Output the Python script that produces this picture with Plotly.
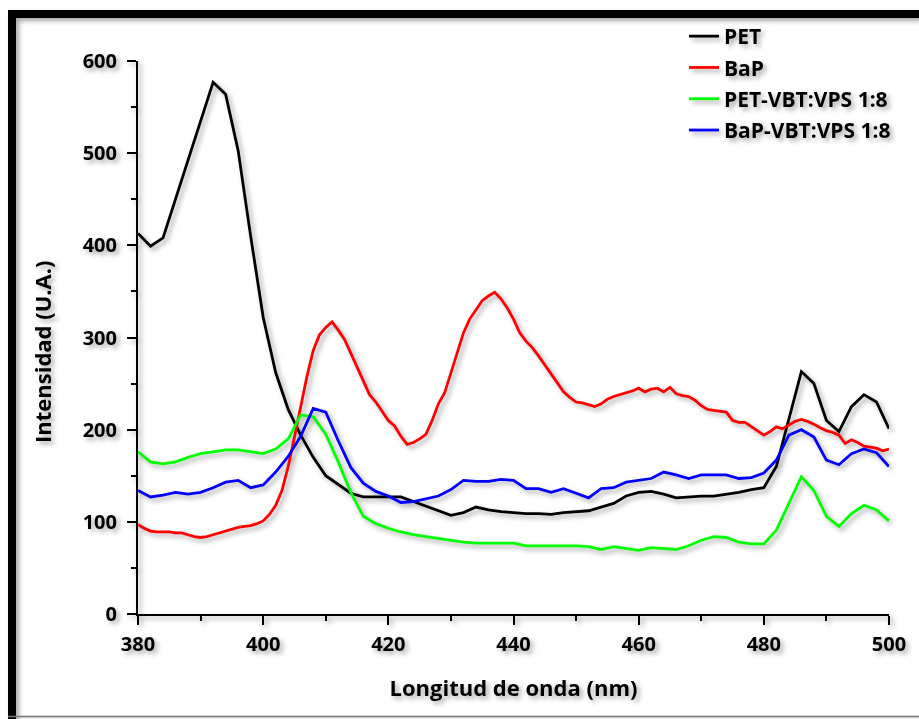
import plotly.graph_objects as go

# Emission spectra, wavelength in nm
wl_2nm = list(range(380, 501, 2))
wl_1nm = list(range(380, 501, 1))

pet = [413, 399, 408, 450, 492, 534, 577, 564, 503, 410,
       322, 262, 222, 194, 170, 150, 140, 131, 127, 127,
       127, 127, 122, 117, 112, 107, 110, 116, 113, 111,
       110, 109, 109, 108, 110, 111, 112, 116, 120, 128,
       132, 133, 130, 126, 127, 128, 128, 130, 132, 135,
       137, 160, 212, 263, 250, 210, 198, 225, 238, 230,
       201]

bap = [97, 93, 90, 89, 89, 89, 88, 88, 86, 84,
       83, 84, 86, 88, 90, 92, 94, 95, 96, 98,
       101, 108, 118, 134, 160, 192, 225, 258, 286, 303,
       311, 317, 308, 298, 283, 268, 252, 238, 230, 220,
       210, 204, 193, 184, 186, 190, 195, 210, 228, 240,
       262, 285, 305, 320, 330, 340, 345, 349, 342, 332,
       320, 305, 296, 289, 280, 270, 260, 250, 241, 235,
       230, 229, 227, 225, 228, 233, 236, 238, 240, 242,
       245, 241, 244, 245, 241, 246, 239, 237, 236, 232,
       226, 222, 221, 220, 219, 210, 208, 208, 203, 199,
       194, 198, 203, 201, 205, 209, 211, 209, 206, 202,
       199, 197, 194, 185, 189, 186, 182, 181, 180, 177,
       179]

pet_vbt = [176, 165, 163, 165, 170, 174, 176, 178, 178, 176,
           174, 179, 190, 216, 214, 195, 165, 132, 106, 98,
           93, 89, 86, 84, 82, 80, 78, 77, 77, 77,
           77, 74, 74, 74, 74, 74, 73, 70, 73, 71,
           69, 72, 71, 70, 74, 80, 84, 83, 78, 76,
           76, 91, 120, 149, 134, 106, 95, 109, 118, 113,
           101]

bap_vbt = [134, 127, 129, 132, 130, 132, 137, 143, 145, 137,
           140, 154, 171, 193, 223, 219, 188, 159, 142, 133,
           128, 121, 122, 125, 128, 135, 145, 144, 144, 146,
           145, 136, 136, 132, 136, 131, 126, 136, 137, 143,
           145, 147, 154, 151, 147, 151, 151, 151, 147, 148,
           153, 167, 194, 200, 192, 167, 162, 174, 179, 175,
           160]

series = [
    ("PET", wl_2nm, pet, "#000000"),
    ("BaP", wl_1nm, bap, "#ff0000"),
    ("PET-VBT:VPS 1:8", wl_2nm, pet_vbt, "#00ff00"),
    ("BaP-VBT:VPS 1:8", wl_2nm, bap_vbt, "#0000ff"),
]

x_ticks = [380, 400, 420, 440, 460, 480, 500]
y_ticks = [0, 100, 200, 300, 400, 500, 600]

FONT = "Open Sans"
fig = go.Figure()
for i, (name, xs, ys, col) in enumerate(series):
    fig.add_trace(go.Scatter(
        x=xs, y=ys, name=name, mode="lines", legendgroup=f"g{i}",
        line=dict(color=col, width=2.8),
    ))

W, H = 919, 719
L, R, T, B = 138, 30, 61, 105
pw, ph = W - L - R, H - T - B


def px_x(p):
    return (p - L) / pw


def px_y(p):
    return (H - B - p) / ph


# outer frame: thick black bands on top and left, thin line at the bottom
shapes = [
    dict(type="rect", xref="paper", yref="paper", x0=px_x(8), x1=px_x(930),
         y0=px_y(18), y1=px_y(10), fillcolor="black", line_width=0, layer="above"),
    dict(type="rect", xref="paper", yref="paper", x0=px_x(8), x1=px_x(16),
         y0=px_y(730), y1=px_y(10), fillcolor="black", line_width=0, layer="above"),
    dict(type="line", xref="paper", yref="paper", x0=px_x(8), x1=px_x(930),
         y0=px_y(716.5), y1=px_y(716.5), line=dict(color="#777777", width=1.5)),
]

axis_common = dict(
    showline=True, linecolor="black", linewidth=2,
    ticks="outside", ticklen=9, tickwidth=2, tickcolor="black",
    showgrid=False, zeroline=False,
    tickfont=dict(family=FONT, size=20, color="black", weight="bold"),
)

# vertical axis title, placed a little below the plot's centre line
y_title = dict(
    text="Intensidad (U.A.)", textangle=-90, showarrow=False,
    xref="paper", yref="paper", x=px_x(42), y=px_y(352),
    xanchor="center", yanchor="middle",
    font=dict(family=FONT, size=22, color="black", weight="bold"),
)

fig.update_layout(
    width=W, height=H,
    margin=dict(l=L, r=R, t=T, b=B),
    paper_bgcolor="rgba(0,0,0,0)", plot_bgcolor="rgba(0,0,0,0)",
    font=dict(family=FONT, color="black"),
    shapes=shapes,
    annotations=[y_title],
    xaxis=dict(
        range=[380, 500], tickvals=x_ticks,
        minor=dict(dtick=10, ticks="outside", ticklen=5, tickwidth=2, tickcolor="black"),
        ticklabelstandoff=2,
        title=dict(text="Longitud de onda (nm)", standoff=25,
                   font=dict(family=FONT, size=22, color="black", weight="bold")),
        **axis_common,
    ),
    yaxis=dict(
        range=[0, 600], tickvals=y_ticks,
        minor=dict(dtick=50, ticks="outside", ticklen=5, tickwidth=2, tickcolor="black"),
        ticklabelstandoff=6,
        **axis_common,
    ),
    legend=dict(
        x=px_x(684), y=px_y(16), xanchor="left", yanchor="top",
        bgcolor="rgba(0,0,0,0)", tracegroupgap=1,
        font=dict(family=FONT, size=21, color="black", weight="bold"),
    ),
    showlegend=True,
)

# soft drop shadow under every drawn element
post = """
var gd = document.getElementById('{plot_id}');
function addShadow(){
  var c = gd.querySelector('.svg-container');
  if (c) { c.style.filter = 'drop-shadow(3px 3px 2.5px rgba(0,0,0,0.35))'; }
}
addShadow();
gd.on('plotly_afterplot', addShadow);
"""

fig.write_html("out.html", post_script=post)
